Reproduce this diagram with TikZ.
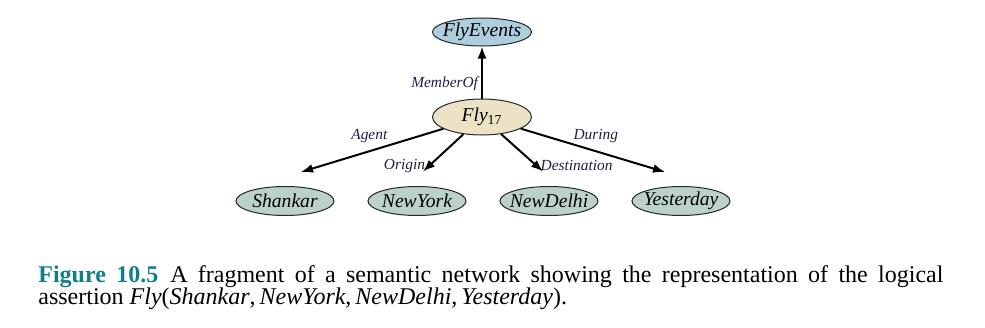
\documentclass[tikz,border=0pt]{standalone}
\usepackage{fontspec}
\setmainfont{Liberation Serif}
\usepackage{xcolor}
\definecolor{eventblue}{RGB}{174,206,222}
\definecolor{flysand}{RGB}{236,226,198}
\definecolor{sage}{RGB}{186,210,199}
\definecolor{edgeink}{RGB}{30,30,70}
\definecolor{capteal}{RGB}{16,128,134}
\usepackage{tikz}
\usetikzlibrary{shapes.geometric, arrows.meta, positioning}

\begin{document}
\begin{tikzpicture}[
    node distance=26pt and 16.5pt,
    concept/.style={
      ellipse, draw=black!85, line width=0.5pt,
      minimum width=49pt, minimum height=14.5pt,
      inner xsep=-6pt, inner ysep=-2pt,
      font=\fontsize{9.8pt}{11pt}\selectfont\itshape
    },
    link/.style={-{Latex[length=6pt,width=4.5pt]}, line width=1pt},
    rel/.style={font=\fontsize{7.7pt}{9pt}\selectfont\itshape, text=edgeink, inner sep=1.5pt}
  ]

  \useasboundingbox (-241pt,58.5pt) rectangle (251.5pt,-105pt);

  % Event node
  \node[concept, fill=flysand, minimum width=49.5pt, minimum height=18pt] (fly) at (0,0)
       {Fly\textsubscript{\upshape 17}};
  \node[concept, fill=eventblue, minimum width=49.5pt, minimum height=14pt,
        above=of fly] (flyevents) {FlyEvents};

  % Arguments
  \node[concept, fill=sage] (newyork) at ([xshift=-32.5pt, yshift=-42pt]fly) {NewYork};
  \node[concept, fill=sage, left=of newyork]     (shankar)   {Shankar};
  \node[concept, fill=sage, right=of newyork]    (newdelhi)  {NewDelhi};
  \node[concept, fill=sage, right=of newdelhi]   (yesterday) {Yesterday};

  % Arrow ends above the arguments
  \coordinate (agentend)  at ([xshift=8pt, yshift=7pt]shankar.north);
  \coordinate (originend) at ([xshift=3pt, yshift=7.25pt]newyork.north);
  \coordinate (destend)   at ([xshift=-3pt, yshift=7.25pt]newdelhi.north);
  \coordinate (duringend) at ([xshift=-8pt, yshift=7pt]yesterday.north);

  % Arrows
  \draw[link] (fly) -- node[rel, left, pos=0.28] {MemberOf} (flyevents);
  \draw[link] (fly) -- node[rel, above=2pt, pos=0.52] {Agent} (agentend);
  \draw[link] (fly) -- node[rel, left, pos=0.85] {Origin} (originend);
  \draw[link] (fly) -- node[rel, right, pos=0.85] {Destination} (destend);
  \draw[link] (fly) -- node[rel, above=2pt, pos=0.52] {During} (duringend);

  % Caption
  \node[anchor=north west, text width=452.5pt, align=justify, inner sep=0pt,
        font=\fontsize{12pt}{11.3pt}\selectfont] (caption) at (-222pt,-74pt)
    {{\bfseries\color{capteal}Figure 10.5}\hspace{0.5em}A fragment of a semantic network showing the
     representation of the logical\linebreak assertion
     \textit{Fly}(\textit{Shankar},\,\textit{NewYork},\,\textit{NewDelhi},\,\textit{Yesterday}).};

\end{tikzpicture}
\end{document}
